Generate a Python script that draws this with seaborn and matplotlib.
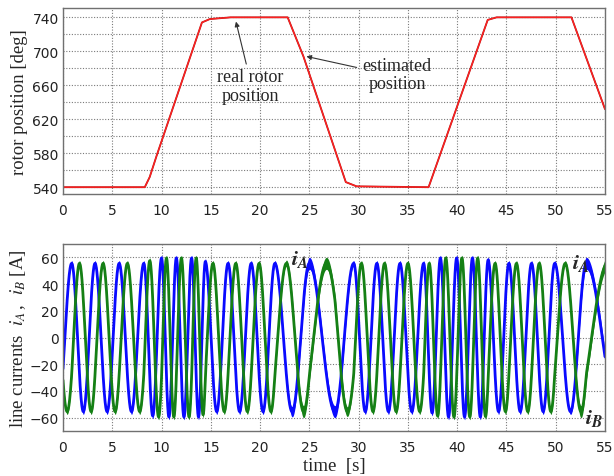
import numpy as np
import pandas as pd
import matplotlib
matplotlib.use("Agg")
import matplotlib.pyplot as plt
import seaborn as sns

# rotor position profile (time [s], angle [deg])
pos_t = [0.0, 8.3, 8.8, 9.5, 14.1, 14.9, 17.0, 22.8, 24.4, 28.7, 29.8, 37.1, 43.1, 44.0, 51.6, 55.0]
pos_deg = [540, 540, 552, 577, 734, 738, 740, 740, 694, 546, 541, 540, 737, 740, 740, 632]

# phase-A current: times of maxima and minima [s]
ia_max_t = [0.88, 3.25, 5.7, 8.2, 10.0, 11.5, 13.05, 14.45, 16.75, 19.1, 21.5, 25.0,
            29.5, 31.85, 34.2, 36.6, 38.3, 39.95, 41.55, 43.15, 45.25, 47.55, 49.9, 53.1]
ia_min_t = [27.6]
phase_start_deg = -115   # phase of i_A at t = 0
phase_end_deg = 105      # phase advance after the last maximum, at t = 55
phase_shift_b_deg = 120  # i_B lags i_A

# current envelope and PWM ripple
amp_t = [0, 8.3, 9.3, 13.8, 14.8, 37.2, 38.2, 42.8, 43.8, 55]
amp_a = [55.5, 55.5, 59.5, 59.5, 55.5, 55.5, 59.5, 59.5, 55.5, 55.5]
rip_t = [0, 22.5, 23.5, 28.5, 29.5, 51.5, 52.3, 55]
rip_a = [2.0, 2.0, 4.5, 4.5, 2.0, 2.0, 4.5, 4.5]

x_ticks = list(range(0, 56, 5))
pos_ticks = list(range(540, 741, 40))
cur_ticks = list(range(-60, 61, 20))

# ---- build phase track from the extrema ----
events = sorted([(t, 0) for t in ia_max_t] + [(t, 1) for t in ia_min_t])
ev_t, ev_ph = [], []
ph = 0.0
prev = None
for t, kind in events:
    if prev is not None:
        ph += 180.0 if kind != prev else 360.0
    ev_t.append(t)
    ev_ph.append(ph)
    prev = kind
knot_t = [0.0] + ev_t + [55.0]
knot_ph = [phase_start_deg] + ev_ph + [ev_ph[-1] + phase_end_deg]

t = np.linspace(0, 55, 8001)
phase = np.deg2rad(np.interp(t, knot_t, knot_ph))
amp = np.interp(t, amp_t, amp_a)
rip = np.interp(t, rip_t, rip_a)
i_a = amp * np.cos(phase)
i_b = amp * np.cos(phase - np.deg2rad(phase_shift_b_deg))

cur = pd.DataFrame({"t": t, "iA": i_a, "iB": i_b})
pos = pd.DataFrame({"t": pos_t, "deg": pos_deg})

sns.set_style("white")
plt.rcParams["font.family"] = ["DejaVu Sans"]
plt.rcParams["mathtext.fontset"] = "stix"

fig = plt.figure(figsize=(6.14, 4.77), dpi=100)
ax1 = fig.add_axes([0.1026, 0.5912, 0.8827, 0.3899])
ax2 = fig.add_axes([0.1026, 0.0943, 0.8827, 0.3921])

serif = ["Liberation Serif", "DejaVu Serif"]
blue = "#0a0aff"
green = "#158015"
arrow_kw = dict(arrowstyle="-|>", color="#333333", lw=0.8, mutation_scale=7,
                shrinkA=0, shrinkB=0)

# top: rotor position (real and estimated overlap)
sns.lineplot(data=pos, x="t", y="deg", ax=ax1, color="#b01818", lw=1.3, estimator=None)
sns.lineplot(data=pos, x="t", y="deg", ax=ax1, color="#ff2222", lw=0.9, estimator=None)
ax1.set_xlim(0, 55)
ax1.set_ylim(532, 751)
ax1.set_xticks(x_ticks)
ax1.set_yticks(pos_ticks)
ax1.set_yticks(list(range(540, 741, 20)), minor=True)
ax1.set_xlabel("")
ax1.set_ylabel("rotor position [deg]", family=serif, fontsize=13.5, labelpad=3)
ax1.text(19.0, 659, "real rotor\nposition", ha="center", va="center",
         family=serif, fontsize=13, linespacing=1.1)
ax1.annotate("", xy=(17.55, 735), xytext=(18.6, 685), arrowprops=arrow_kw)
ax1.text(33.9, 673, "estimated\nposition", ha="center", va="center",
         family=serif, fontsize=13, linespacing=1.1)
ax1.annotate("", xy=(24.7, 694), xytext=(29.8, 681), arrowprops=arrow_kw)

# bottom: line currents
ax2.fill_between(t, i_a - rip, i_a + rip, color=blue, lw=0)
sns.lineplot(data=cur, x="t", y="iA", ax=ax2, color=blue, lw=2.0, estimator=None)
ax2.fill_between(t, i_b - rip, i_b + rip, color=green, lw=0)
sns.lineplot(data=cur, x="t", y="iB", ax=ax2, color=green, lw=2.0, estimator=None)
ax2.set_xlim(0, 55)
ax2.set_ylim(-70, 70)
ax2.set_xticks(x_ticks)
ax2.set_yticks(cur_ticks)
ax2.set_xlabel("time  [s]", family=serif, fontsize=13.5, labelpad=2)
ax2.set_ylabel(r"line currents  $i_A\,$,  $i_B$ [A]", family=serif, fontsize=13.5, labelpad=1)
lab_kw = dict(fontsize=16, ha="center", va="center")
ax2.text(24.0, 59, r"$\mathbfit{i}_{\mathbfit{A}}$", **lab_kw)
ax2.text(52.6, 56, r"$\mathbfit{i}_{\mathbfit{A}}$", **lab_kw)
ax2.text(53.9, -60, r"$\mathbfit{i}_{\mathbfit{B}}$", **lab_kw)

for ax in (ax1, ax2):
    ax.grid(True, which="both", ls=(0, (1, 1.5)), color="#7a7a7a", lw=0.8)
    ax.set_axisbelow(True)
    ax.tick_params(axis="both", which="both", direction="in", length=3,
                   labelsize=10, colors="#222222")
    ax.tick_params(axis="y", which="both", pad=3)
    ax.tick_params(axis="x", which="both", pad=6.5)
    ax.tick_params(axis="both", which="minor", length=2)
    for sp in ax.spines.values():
        sp.set_color("#707070")
        sp.set_linewidth(1.0)

fig.savefig("out.png", dpi=100)
